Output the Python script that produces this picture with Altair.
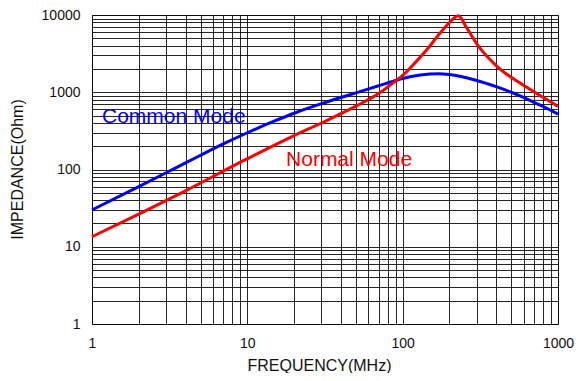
import altair as alt
import pandas as pd

# Common mode impedance
cm_freq = [1, 2, 3, 4, 5, 7, 10, 15, 20, 30, 40, 50, 70, 90, 100, 130, 170, 200,
           300, 400, 500, 600, 700, 800, 1000]
cm_imp = [30, 60, 90.7, 122, 153, 214, 299, 425, 535, 711, 855, 981, 1213, 1420,
          1510, 1670, 1740, 1700, 1420, 1180, 1000, 857, 740, 655, 520]

# Normal mode impedance
nm_freq = [1, 2, 4, 10, 20, 30, 50, 70, 90, 100, 120, 147, 170, 200, 215, 228,
           240, 252, 275, 300, 347, 400, 456, 500, 600, 700, 800, 900, 1000]
nm_imp = [13.5, 26.5, 53, 138, 275, 400, 660, 960, 1400, 1650, 2400, 3800, 5500,
          8000, 9200, 9800, 8900, 7400, 5600, 4230, 2940, 2214, 1772, 1560, 1230,
          1014, 862, 748, 655]

series_names = ["Common Mode", "Normal Mode"]
series_colors = ["#0000FF", "#FF0000"]

# label anchor points (data coordinates)
label_freq = [1.16, 17.75]
label_imp = [404, 110]

x_grid = [m * d for d in [1, 10, 100] for m in range(1, 10)] + [1000]
y_grid = [m * d for d in [1, 10, 100, 1000] for m in range(1, 10)] + [10000]
x_labels = [1, 10, 100, 1000]
y_labels = [1, 10, 100, 1000, 10000]

df = pd.concat([
    pd.DataFrame({"f": cm_freq, "z": cm_imp, "s": series_names[0]}),
    pd.DataFrame({"f": nm_freq, "z": nm_imp, "s": series_names[1]}),
])
lab = pd.DataFrame({"f": label_freq, "z": label_imp, "s": series_names})

color = alt.Color("s:N", scale=alt.Scale(domain=series_names, range=series_colors), legend=None)

x_enc = alt.X(
    "f:Q",
    scale=alt.Scale(type="log", domain=[1, 1000], nice=False),
    axis=alt.Axis(
        values=x_grid,
        labelExpr="indexof(%s, datum.value) >= 0 ? format(datum.value, 'd') : ''" % str(x_labels),
        labelOverlap=False, labelFlush=False, ticks=False, domain=False,
        grid=True, labelPadding=12,
        title="FREQUENCY(MHz)", titleX=227, titleY=46, titleBaseline="alphabetic",
        titleAlign="center",
    ),
)
y_enc = alt.Y(
    "z:Q",
    scale=alt.Scale(type="log", domain=[1, 10000], nice=False),
    axis=alt.Axis(
        values=y_grid,
        labelExpr="indexof(%s, datum.value) >= 0 ? format(datum.value, 'd') : ''" % str(y_labels),
        labelOverlap=False, labelFlush=False, ticks=False, domain=False,
        grid=True, labelPadding=12,
        title="IMPEDANCE(Ohm)", titleX=-75, titleY=154, titleBaseline="middle",
        titleAlign="center", titleAngle=-90,
    ),
)

lines = alt.Chart(df).mark_line(strokeWidth=3, interpolate="monotone").encode(
    x=x_enc, y=y_enc, color=color, detail="s:N"
)
texts = alt.Chart(lab).mark_text(align="left", baseline="alphabetic", fontSize=21).encode(
    x=alt.X("f:Q", scale=alt.Scale(type="log", domain=[1, 1000], nice=False)),
    y=alt.Y("z:Q", scale=alt.Scale(type="log", domain=[1, 10000], nice=False)),
    color=color,
    text="s:N",
)

chart = alt.layer(lines, texts).properties(
    width=466, height=309,
    autosize=alt.AutoSizeParams(type="none"),
    padding={"left": 84, "top": 7, "right": 19, "bottom": 49},
).configure(font="Liberation Sans").configure_axis(
    gridColor="#000000", gridWidth=1, gridOpacity=0.85,
    labelFontSize=14, labelColor="#111111", labelFont="Liberation Sans",
    titleFontSize=16, titleColor="#111111", titleFont="Liberation Sans",
    titleFontWeight="normal",
).configure_view(stroke="#444444", strokeWidth=1)

chart.save("out.html", embed_options={"renderer": "svg", "actions": False})
